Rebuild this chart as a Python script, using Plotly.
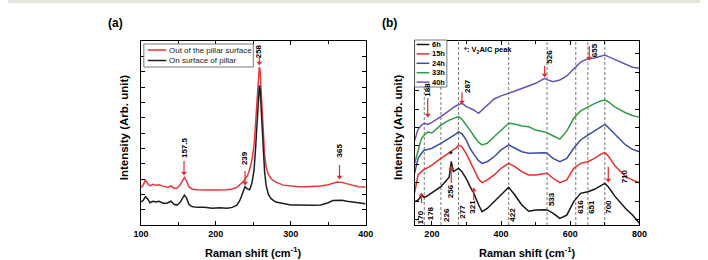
import plotly.graph_objects as go

# ---------------- DATA ----------------
# Panel (a): Raman spectra, 100-400 cm-1 (arbitrary intensity units)
a_names = ["Out of the pillar surface", "On surface of pillar"]
a_x = [100, 103, 106, 109, 112, 116, 120, 124, 128, 132, 136, 140, 144, 148, 152, 155, 158, 161,
       164, 168, 175, 185, 195, 205, 215, 222, 228, 232, 236, 239, 242, 245, 248, 251, 253, 255,
       257, 258, 259, 261, 263, 265, 267, 270, 274, 280, 290, 300, 310, 320, 330, 340, 350, 356,
       362, 368, 375, 382, 390, 400]
a_out = [2.45, 2.6, 2.95, 2.7, 2.55, 2.65, 2.6, 2.62, 2.55, 2.5, 2.45, 2.55, 2.4, 2.4, 2.6, 2.85, 3.1, 2.85,
         2.5, 2.35, 2.3, 2.28, 2.27, 2.28, 2.3, 2.35, 2.45, 2.6, 2.8, 3.0, 3.2, 3.6, 4.2, 5.2, 6.6, 8.5,
         10.0, 10.3, 10.1, 8.5, 6.2, 4.6, 3.8, 3.3, 3.0, 2.8, 2.6, 2.55, 2.5, 2.5, 2.52, 2.55, 2.62, 2.72,
         2.8, 2.78, 2.7, 2.6, 2.5, 2.48]
a_on = [1.5, 1.6, 1.85, 1.7, 1.45, 1.55, 1.5, 1.55, 1.45, 1.4, 1.45, 1.55, 1.35, 1.3, 1.45, 1.75, 1.95, 1.75,
        1.35, 1.2, 1.15, 1.15, 1.1, 1.12, 1.1, 1.15, 1.3, 1.6, 2.2, 2.5, 2.35, 2.3, 2.7, 3.6, 5.0, 7.0,
        8.8, 9.1, 8.9, 7.2, 5.0, 3.5, 2.6, 2.0, 1.7, 1.5, 1.4, 1.3, 1.3, 1.28, 1.28, 1.3, 1.45, 1.6,
        1.6, 1.62, 1.55, 1.5, 1.42, 1.38]
a_peaks = [157.5, 239, 258, 365]
a_peak_text_y = [5.02, 4.37, 11.35, 4.83]
a_arrow_head_y = [3.39, 2.74, 10.57, 3.13]
a_arrow_tail_y = [4.17, 3.52, 10.96, 3.91]

# Panel (b): time series, 150-800 cm-1
b_names = ["6h", "15h", "24h", "33h", "40h"]
b_x = [150, 160, 170, 178, 188, 200, 226, 250, 256, 262, 270, 277, 287, 300, 310, 321, 335, 345, 360,
       380, 400, 422, 440, 460, 480, 500, 526, 533, 550, 570, 590, 610, 630, 651, 670, 690, 700, 710,
       730, 760, 780, 800]
b_6h = [1.27, 1.35, 1.6, 1.5, 1.6, 1.74, 2.08, 2.6, 3.45, 2.9, 3.0, 3.08, 2.9, 2.5, 2.1, 1.74, 1.1, 0.72, 0.9,
        1.27, 1.63, 2.05, 1.63, 1.09, 0.75, 0.82, 0.83, 0.82, 0.65, 0.36, 0.54, 1.27, 1.72, 1.81, 1.94, 2.17, 2.26, 2.08,
        1.54, 0.9, 0.54, 0.1]
b_15h = [1.75, 2.72, 2.9, 3.03, 3.12, 3.26, 3.62, 3.9, 4.0, 4.1, 4.17, 4.35, 4.25, 3.85, 3.44, 3.0, 2.5, 2.3, 2.45,
         2.72, 3.08, 3.35, 3.17, 2.9, 2.72, 2.72, 2.8, 2.81, 2.54, 2.3, 2.45, 3.08, 3.35, 3.44, 3.62, 3.86, 3.93, 3.75,
         3.2, 2.63, 2.45, 2.3]
b_24h = [2.81, 3.62, 3.9, 4.08, 4.1, 4.17, 4.44, 4.71, 4.78, 4.85, 4.95, 5.07, 4.95, 4.6, 4.17, 3.85, 3.5, 3.35, 3.44,
         3.71, 4.08, 4.35, 4.17, 3.98, 3.9, 3.92, 3.93, 3.9, 3.62, 3.44, 3.62, 4.17, 4.62, 4.89, 5.1, 5.35, 5.47, 5.3,
         4.9, 4.35, 4.11, 3.98]
b_33h = [3.35, 4.08, 4.71, 4.89, 5.05, 5.0, 5.43, 5.7, 5.75, 5.8, 5.85, 5.89, 5.75, 5.45, 5.16, 4.85, 4.5, 4.35, 4.44,
         4.8, 5.16, 5.53, 5.49, 5.38, 5.34, 5.16, 5.05, 5.02, 4.85, 4.67, 5.1, 5.8, 6.2, 6.43, 6.6, 6.75, 6.79, 6.7,
         6.4, 6.1, 5.95, 5.85]
b_40h = [4.6, 5.2, 5.43, 5.53, 5.47, 5.58, 5.89, 6.25, 6.32, 6.38, 6.48, 6.55, 6.61, 6.43, 6.35, 6.25, 6.07, 6.25, 6.5,
         6.85, 7.02, 7.15, 7.28, 7.42, 7.56, 7.7, 7.97, 7.9, 7.79, 7.88, 8.1, 8.5, 8.85, 9.04, 9.08, 9.18, 9.24, 9.15,
         8.98, 8.7, 8.57, 8.52]
b_series = [b_6h, b_15h, b_24h, b_33h, b_40h]
b_ref_lines = [178, 226, 277, 422, 533, 616, 651, 700]
# labelled peaks at bottom (text only)
b_low_labels = [170, 178, 226, 277, 321, 422, 533, 616, 651, 700]
b_low_label_y = [0.4, 0.65, 0.54, 0.7, 0.98, 0.54, 1.41, 0.98, 0.98, 0.98]
b_low_xshift = [-1, 6, 5, 4, -1, 3, 4, 5, 4, 4]
# red-arrow peaks
b_arrow_peaks = [188, 287, 526, 655, 256, 321, 170, 710]
b_arrow_head_y = [5.98, 6.68, 8.15, 9.08, 3.1, 1.9, 1.63, 2.45]
b_arrow_tail_y = [6.9, 7.22, 8.64, 9.73, 2.28, 1.36, 1.2, 3.16]
b_top_labels = [188, 287, 526, 655, 256, 710]
b_top_label_y = [7.34, 7.55, 9.13, 9.51, 1.85, 2.66]
b_top_xshift = [0, 5, 4, 5, 0, 16]

# ---------------- STYLE / LAYOUT ----------------
W, H = 708, 260
FONT = "Liberation Sans, Arial, sans-serif"
RED = "#e4292b"
a_colors = ["#e8363a", "#1e1e1e"]
b_colors = ["#151515", "#e6302b", "#3b4ea8", "#2e9d43", "#6a50bb"]

LA = (136, 366)
RA = (416, 646)
TOP, BOT = 41, 225


def px(xp):
    return xp / W


def py(yp):
    return 1 - yp / H


fig = go.Figure()
for name, ys, col in zip(a_names, [a_out, a_on], a_colors):
    fig.add_trace(go.Scatter(x=a_x, y=ys, mode="lines", name=name, line=dict(color=col, width=1.5),
                             xaxis="x", yaxis="y", showlegend=False))
for name, ys, col in zip(b_names, b_series, b_colors):
    fig.add_trace(go.Scatter(x=b_x, y=ys, mode="lines", name=name, line=dict(color=col, width=1.5),
                             xaxis="x2", yaxis="y2", showlegend=False))


def add_arrows(xs, heads, tails, xa, ya):
    lx, ly, sym = [], [], []
    for xv, h, t in zip(xs, heads, tails):
        lx += [xv, xv, None]
        ly += [t, h, None]
        sym.append("triangle-down" if t > h else "triangle-up")
    fig.add_trace(go.Scatter(x=lx, y=ly, mode="lines", line=dict(color=RED, width=1.2),
                             xaxis=xa, yaxis=ya, showlegend=False, hoverinfo="skip"))
    fig.add_trace(go.Scatter(x=xs, y=heads, mode="markers",
                             marker=dict(symbol=sym, size=5, color=RED, line=dict(width=0)),
                             xaxis=xa, yaxis=ya, showlegend=False, hoverinfo="skip"))


add_arrows(a_peaks, a_arrow_head_y, a_arrow_tail_y, "x", "y")
add_arrows(b_arrow_peaks, b_arrow_head_y, b_arrow_tail_y, "x2", "y2")

axis_common = dict(showline=True, linecolor="black", linewidth=1.3, mirror="allticks", ticks="inside",
                   tickcolor="black", tickwidth=1.1, showgrid=False, zeroline=False,
                   tickfont=dict(family=FONT, size=9, color="black", weight="bold"))

fig.update_layout(
    width=W, height=H, margin=dict(l=0, r=0, t=0, b=0),
    paper_bgcolor="white", plot_bgcolor="white", showlegend=False,
    xaxis=dict(domain=[px(LA[0]), px(LA[1])], range=[100, 400], tickmode="array",
               tickvals=[100, 200, 300, 400], ticklen=4,
               minor=dict(tickvals=[150, 250, 350], ticks="inside", ticklen=3, tickcolor="black"),
               anchor="y", **axis_common),
    yaxis=dict(domain=[py(BOT), py(TOP)], range=[0, 12], tickmode="linear", tick0=0, dtick=1, ticklen=4,
               showticklabels=False, anchor="x", **axis_common),
    xaxis2=dict(domain=[px(RA[0]), px(RA[1])], range=[150, 800], tickmode="array",
                tickvals=[200, 400, 600, 800], ticklen=4,
                minor=dict(tickvals=[300, 500, 700], ticks="inside", ticklen=3, tickcolor="black"),
                anchor="y2", **axis_common),
    yaxis2=dict(domain=[py(BOT), py(TOP)], range=[0, 10], tickmode="linear", tick0=0.3, dtick=1, ticklen=4,
                showticklabels=False, anchor="x2", **axis_common),
)

shapes = []
ann = []

# top grey strip
shapes.append(dict(type="rect", xref="paper", yref="paper", x0=0, x1=1, y0=py(3), y1=1,
                   fillcolor="#e4e4dc", line=dict(width=0), layer="below"))

# dashed reference lines panel b
for xv in b_ref_lines:
    shapes.append(dict(type="line", xref="x2", yref="y2 domain", x0=xv, x1=xv, y0=0, y1=1,
                       line=dict(color="#6d6d6d", width=0.9, dash="3px,2px"), layer="below"))


def tfont(size, bold=True, color="black"):
    return dict(family=FONT, size=size, color=color, weight="bold" if bold else "normal")


def note(**kw):
    d = dict(showarrow=False, xanchor="center", yanchor="middle")
    d.update(kw)
    ann.append(d)


# panel labels and axis titles
note(xref="paper", yref="paper", x=px(110), y=py(23), text="(a)", font=tfont(12))
note(xref="paper", yref="paper", x=px(390), y=py(23), text="(b)", font=tfont(12))
for cx in [(LA[0] + LA[1]) / 2, (RA[0] + RA[1]) / 2 - 0.5]:
    note(xref="paper", yref="paper", x=px(cx), y=py(252), text="Raman shift (cm<sup>-1</sup>)", font=tfont(11))
for cx in [119, 399]:
    note(xref="paper", yref="paper", x=px(cx), y=py(127), text="Intensity (Arb. unit)",
         textangle=-90, font=tfont(11.5))

# panel a peak labels
for xv, ty in zip(a_peaks, a_peak_text_y):
    note(xref="x", yref="y", x=xv, y=ty, text=str(xv), textangle=-90, font=tfont(8))

# panel b labels
note(xref="x2", yref="y2", x=288, y=9.51, text="*: V<sub>2</sub>AlC peak", xanchor="left", font=tfont(7.5))
note(xref="x2", yref="y2", x=256, y=3.85, text="*", font=tfont(9))
for xv, ty, xs in zip(b_low_labels, b_low_label_y, b_low_xshift):
    note(xref="x2", yref="y2", x=xv, y=ty, xshift=xs, text=str(xv), textangle=-90, font=tfont(8))
for xv, ty, xs in zip(b_top_labels, b_top_label_y, b_top_xshift):
    note(xref="x2", yref="y2", x=xv, y=ty, xshift=xs, text=str(xv), textangle=-90, font=tfont(8))


# manual legends
def dom(panel, xp, yp):
    x0, x1 = panel
    return (xp - x0) / (x1 - x0), (BOT - yp) / (BOT - TOP)


# legend a
bx0, by0 = dom(LA, 139, 67)
bx1, by1 = dom(LA, 251, 44)
shapes.append(dict(type="rect", xref="x domain", yref="y domain", x0=bx0, x1=bx1, y0=by0, y1=by1,
                   line=dict(color="#555", width=0.8), fillcolor="white"))
for i, (name, col) in enumerate(zip(a_names, a_colors)):
    yp = 50 + i * 10.5
    lx0, ly = dom(LA, 143, yp)
    lx1, _ = dom(LA, 162, yp)
    shapes.append(dict(type="line", xref="x domain", yref="y domain", x0=lx0, x1=lx1, y0=ly, y1=ly,
                       line=dict(color=col, width=1.5)))
    tx, _ = dom(LA, 162.5, yp)
    note(xref="x domain", yref="y domain", x=tx, y=ly, text=name, xanchor="left",
         font=tfont(8, bold=False, color="#222"))

# legend b
bx0, by0 = dom(RA, 416, 87)
bx1, by1 = dom(RA, 449, 40)
shapes.append(dict(type="rect", xref="x2 domain", yref="y2 domain", x0=bx0, x1=bx1, y0=by0, y1=by1,
                   line=dict(color="#555", width=0.8), fillcolor="white"))
for i, (name, col) in enumerate(zip(b_names, b_colors)):
    yp = 44.5 + i * 9.4
    lx0, ly = dom(RA, 418, yp)
    lx1, _ = dom(RA, 431, yp)
    shapes.append(dict(type="line", xref="x2 domain", yref="y2 domain", x0=lx0, x1=lx1, y0=ly, y1=ly,
                       line=dict(color=col, width=1.5)))
    tx, _ = dom(RA, 431.5, yp)
    note(xref="x2 domain", yref="y2 domain", x=tx, y=ly, text=name, xanchor="left", font=tfont(7.5))

fig.update_layout(shapes=shapes, annotations=ann)
fig.write_html("out.html")
